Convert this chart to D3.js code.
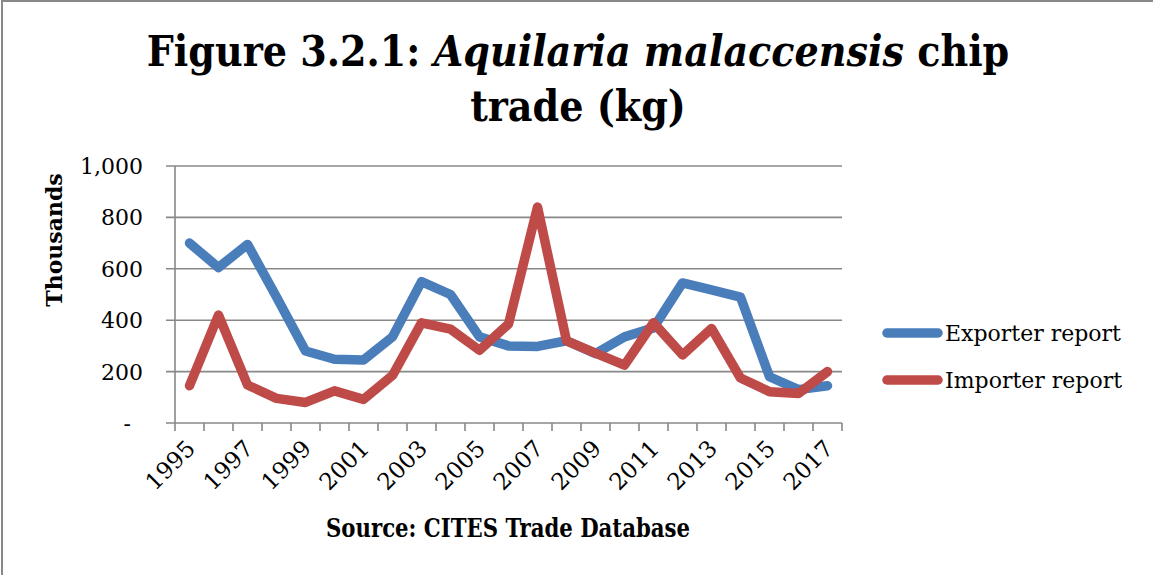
<!DOCTYPE html>
<html>
<head>
<meta charset="utf-8">
<script src="https://cdn.jsdelivr.net/npm/d3@7"></script>
<style>
    body { margin: 0; background: #fff; }
    svg { display: block; }
    text { font-family: "DejaVu Serif", serif; fill: #000; }
    .condensed { font-family: "DejaVu Serif Condensed", "DejaVu Serif", serif; font-stretch: condensed; }
</style>
</head>
<body>
<div id="chart"></div>
<script>
(function () {

    'use strict';

    var years = ['1995', '1996', '1997', '1998', '1999', '2000', '2001', '2002', '2003', '2004', '2005', '2006',
        '2007', '2008', '2009', '2010', '2011', '2012', '2013', '2014', '2015', '2016', '2017'];

    var yearLabels = ['1995', '1997', '1999', '2001', '2003', '2005', '2007', '2009', '2011', '2013', '2015', '2017'];

    // values in thousands of kg
    var exporterReport = [700, 605, 695, 490, 280, 248, 245, 335, 550, 500, 335, 300,
        298, 320, 270, 335, 370, 545, 518, 490, 180, 130, 145];

    var importerReport = [145, 420, 148, 96, 80, 125, 92, 185, 390, 365, 283, 385,
        840, 320, 272, 225, 390, 265, 368, 175, 122, 115, 200];

    var yTicks = [0, 200, 400, 600, 800, 1000];

    var series = [
        {name: 'Exporter report', values: exporterReport, color: '#4a7ebb'},
        {name: 'Importer report', values: importerReport, color: '#be4b48'}
    ];

    var width = 1153;
    var height = 575;

    var plotLeft = 175;
    var plotRight = 842;
    var plotTop = 166;
    var plotBottom = 423;

    var svg = d3.select('#chart')
        .append('svg')
        .attr('width', width)
        .attr('height', height);

    // frame (only left and top edges are visible)
    svg.append('rect')
        .attr('x', 2)
        .attr('y', 1)
        .attr('width', width + 10)
        .attr('height', height + 10)
        .attr('fill', 'none')
        .attr('stroke', '#888')
        .attr('stroke-width', 2);

    var x = d3.scaleBand()
        .domain(years)
        .range([plotLeft, plotRight])
        .padding(0);

    var y = d3.scaleLinear()
        .domain([0, 1000])
        .range([plotBottom, plotTop]);

    var xMid = function (d) {
        return x(d) + x.bandwidth() / 2;
    };

    // gridlines
    svg.append('g')
        .selectAll('line')
        .data(yTicks)
        .enter()
        .append('line')
        .attr('x1', plotLeft - 9)
        .attr('x2', plotRight)
        .attr('y1', function (d) { return y(d); })
        .attr('y2', function (d) { return y(d); })
        .attr('stroke', '#888')
        .attr('stroke-width', 1.6);

    // y axis line
    svg.append('line')
        .attr('x1', plotLeft)
        .attr('x2', plotLeft)
        .attr('y1', plotTop)
        .attr('y2', plotBottom)
        .attr('stroke', '#888')
        .attr('stroke-width', 1.6);

    // x ticks at band edges
    var xEdges = years.map(function (d) { return x(d); }).concat([plotRight]);

    svg.append('g')
        .selectAll('line')
        .data(xEdges)
        .enter()
        .append('line')
        .attr('x1', function (d) { return d; })
        .attr('x2', function (d) { return d; })
        .attr('y1', plotBottom)
        .attr('y2', plotBottom + 8)
        .attr('stroke', '#888')
        .attr('stroke-width', 1.6);

    // y tick labels
    var formatThousands = d3.format(',');

    svg.append('g')
        .selectAll('text')
        .data(yTicks)
        .enter()
        .append('text')
        .attr('x', function (d) { return d === 0 ? 131 : 143; })
        .attr('y', function (d) { return y(d); })
        .attr('dy', '0.36em')
        .attr('text-anchor', 'end')
        .style('font-size', '22px')
        .text(function (d) { return d === 0 ? '-' : formatThousands(d); });

    // x tick labels
    svg.append('g')
        .selectAll('text')
        .data(yearLabels)
        .enter()
        .append('text')
        .attr('transform', function (d) {
            return 'translate(' + (xMid(d) + 7) + ',' + 450 + ') rotate(-45)';
        })
        .attr('text-anchor', 'end')
        .style('font-size', '23px')
        .text(function (d) { return d; });

    // y axis title
    svg.append('text')
        .attr('transform', 'translate(62,240) rotate(-90)')
        .attr('text-anchor', 'middle')
        .style('font-size', '22px')
        .style('font-weight', 'bold')
        .text('Thousands');

    // lines
    var line = d3.line()
        .x(function (d, i) { return xMid(years[i]); })
        .y(function (d) { return y(d); });

    svg.append('g')
        .selectAll('path')
        .data(series)
        .enter()
        .append('path')
        .attr('d', function (d) { return line(d.values); })
        .attr('fill', 'none')
        .attr('stroke', function (d) { return d.color; })
        .attr('stroke-width', 9.5)
        .attr('stroke-linejoin', 'round')
        .attr('stroke-linecap', 'round');

    // legend
    var legend = svg.append('g')
        .selectAll('g')
        .data(series)
        .enter()
        .append('g')
        .attr('transform', function (d, i) { return 'translate(0,' + (333 + i * 47) + ')'; });

    legend.append('line')
        .attr('x1', 887)
        .attr('x2', 938)
        .attr('stroke', function (d) { return d.color; })
        .attr('stroke-width', 9.5)
        .attr('stroke-linecap', 'round');

    legend.append('text')
        .attr('x', 945)
        .attr('y', 8)
        .style('font-size', '22px')
        .text(function (d) { return d.name; });

    // title
    var title = svg.append('text')
        .attr('class', 'condensed')
        .attr('text-anchor', 'middle')
        .style('font-weight', 'bold');

    var line1 = title.append('tspan')
        .attr('x', 578)
        .attr('y', 66);
    line1.append('tspan').text('Figure 3.2.1: ');
    line1.append('tspan').style('font-style', 'italic').text('Aquilaria malaccensis');
    line1.append('tspan').text(' chip');

    title.append('tspan')
        .attr('x', 578)
        .attr('y', 121)
        .text('trade (kg)');

    title.style('font-size', '40px');
    var measured = line1.node().getComputedTextLength();
    title.style('font-size', (40 * 863 / measured) + 'px');

    // source note
    svg.append('text')
        .attr('class', 'condensed')
        .attr('x', 508)
        .attr('y', 537)
        .attr('text-anchor', 'middle')
        .attr('textLength', 364)
        .attr('lengthAdjust', 'spacingAndGlyphs')
        .style('font-size', '26px')
        .style('font-weight', 'bold')
        .text('Source: CITES Trade Database');

}());
</script>
</body>
</html>
